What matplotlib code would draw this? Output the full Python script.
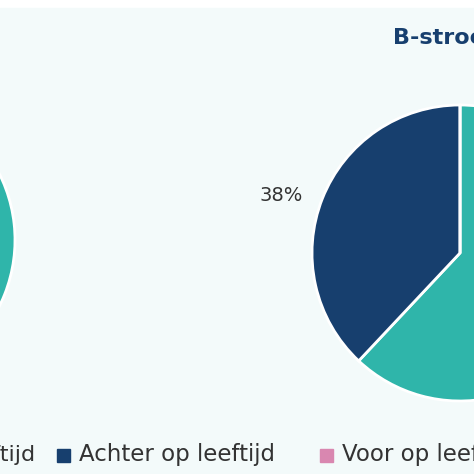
import matplotlib
matplotlib.use("Agg")
import matplotlib.pyplot as plt
from matplotlib.patches import Rectangle

categories = ["Op leeftijd", "Achter op leeftijd", "Voor op leeftijd"]
right_values = [62, 38, 0]
left_values = [62, 38, 0]
colors = ["#2fb5aa", "#173f6e", "#d987b0"]

fig = plt.figure(figsize=(4.74, 4.74), dpi=100)
fig.patch.set_facecolor("white")
ax = fig.add_axes([0, 0, 1, 1])

def py(y): return 474 - y

ax.add_patch(Rectangle((0, 0), 474, 466, color="#f3fafa", zorder=0))
ax.pie(right_values, colors=colors, startangle=90, counterclock=False,
       center=(460, py(253)), radius=148, frame=True,
       wedgeprops=dict(edgecolor="white", linewidth=2))
ax.pie(left_values, colors=colors, startangle=90, counterclock=False,
       center=(-133, py(240)), radius=148, frame=True,
       wedgeprops=dict(edgecolor="white", linewidth=2))
ax.set_xlim(0, 474); ax.set_ylim(0, 474); ax.axis("off")
ax.set_aspect("auto")

ax.text(281, py(195), f"{right_values[1]}%", fontsize=14, color="#333333", ha="center", va="center")
ax.text(393, py(38), "B-stroom", fontsize=16, color="#173f6e", fontweight="bold", ha="left", va="center")

ly = py(455)
ax.text(-80, ly, categories[0], fontsize=16, color="#333333", ha="left", va="center")
ax.add_patch(Rectangle((57, ly - 7), 13, 13, color=colors[1]))
ax.text(79, ly, categories[1], fontsize=16.5, color="#333333", ha="left", va="center")
ax.add_patch(Rectangle((320, ly - 7), 13, 13, color=colors[2]))
ax.text(342, ly, categories[2], fontsize=16.5, color="#333333", ha="left", va="center")

fig.savefig("out.png", dpi=100)
